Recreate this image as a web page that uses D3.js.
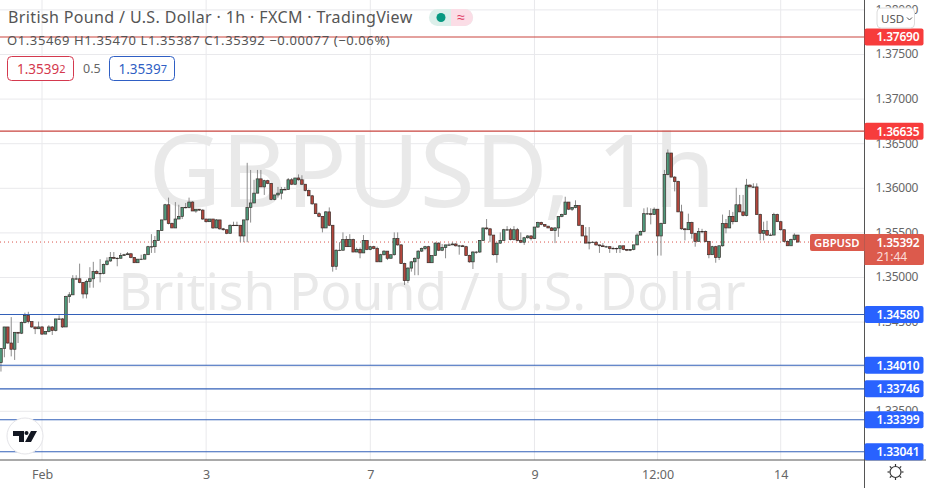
<!DOCTYPE html>
<html>
<head>
<meta charset="utf-8">
<script src="https://cdn.jsdelivr.net/npm/d3@7"></script>
<style>
    html, body { margin: 0; padding: 0; background: #fff; overflow: hidden; }
    svg { display: block; }
    text { font-family: "Noto Sans", sans-serif; }
</style>
</head>
<body>
<svg></svg>
<script>
const firstOpen = 1.3404;
const closes = [
    1.3420, 1.3444, 1.3426, 1.3419, 1.3438, 1.3437, 1.3449, 1.3457, 1.3450, 1.3444,
    1.3442, 1.3444, 1.3436, 1.3439, 1.3444, 1.3440, 1.3453, 1.3453, 1.3444, 1.3478,
    1.3480, 1.3498, 1.3498, 1.3494, 1.3481, 1.3495, 1.3498, 1.3506, 1.3504, 1.3504,
    1.3514, 1.3518, 1.3522, 1.3521, 1.3521, 1.3524, 1.3525, 1.3526, 1.3522, 1.3516,
    1.3520, 1.3520, 1.3525, 1.3534, 1.3534, 1.3541, 1.3552, 1.3564, 1.3581, 1.3560,
    1.3555, 1.3565, 1.3568, 1.3578, 1.3578, 1.3584, 1.3574, 1.3576, 1.3575, 1.3565,
    1.3562, 1.3565, 1.3555, 1.3564, 1.3554, 1.3553, 1.3549, 1.3558, 1.3558, 1.3558,
    1.3546, 1.3564, 1.3578, 1.3583, 1.3594, 1.3610, 1.3601, 1.3608, 1.3605, 1.3587,
    1.3592, 1.3594, 1.3598, 1.3598, 1.3609, 1.3604, 1.3611, 1.3609, 1.3604, 1.3597,
    1.3591, 1.3582, 1.3571, 1.3568, 1.3555, 1.3573, 1.3558, 1.3512, 1.3530, 1.3530,
    1.3542, 1.3534, 1.3542, 1.3528, 1.3531, 1.3527, 1.3541, 1.3531, 1.3534, 1.3532,
    1.3517, 1.3525, 1.3529, 1.3521, 1.3525, 1.3543, 1.3536, 1.3515, 1.3496, 1.3510,
    1.3517, 1.3521, 1.3529, 1.3532, 1.3534, 1.3516, 1.3524, 1.3538, 1.3530, 1.3533,
    1.3536, 1.3536, 1.3537, 1.3535, 1.3535, 1.3534, 1.3524, 1.3517, 1.3528, 1.3528,
    1.3541, 1.3555, 1.3554, 1.3547, 1.3525, 1.3538, 1.3541, 1.3553, 1.3553, 1.3542,
    1.3553, 1.3541, 1.3539, 1.3544, 1.3546, 1.3543, 1.3556, 1.3561, 1.3559, 1.3557,
    1.3555, 1.3552, 1.3555, 1.3568, 1.3570, 1.3584, 1.3576, 1.3578, 1.3580, 1.3558,
    1.3546, 1.3538, 1.3539, 1.3539, 1.3536, 1.3535, 1.3534, 1.3534, 1.3532, 1.3532,
    1.3532, 1.3535, 1.3531, 1.3530, 1.3531, 1.3536, 1.3547, 1.3551, 1.3571, 1.3571,
    1.3570, 1.3576, 1.3546, 1.3560, 1.3615, 1.3639, 1.3612, 1.3607, 1.3573, 1.3554,
    1.3553, 1.3561, 1.3549, 1.3540, 1.3551, 1.3551, 1.3540, 1.3525, 1.3534, 1.3522,
    1.3535, 1.3560, 1.3555, 1.3568, 1.3562, 1.3581, 1.3573, 1.3569, 1.3603, 1.3601,
    1.3601, 1.3570, 1.3549, 1.3552, 1.3547, 1.3547, 1.3570, 1.3562, 1.3553, 1.3540,
    1.3535, 1.3542, 1.3547, 1.35392
];
const highs = [
    1.3420, 1.3444, 1.3444, 1.3455, 1.3438, 1.3438, 1.3450, 1.3460, 1.3461, 1.3450,
    1.3444, 1.3450, 1.3445, 1.3439, 1.3446, 1.3445, 1.3453, 1.3457, 1.3454, 1.3479,
    1.3483, 1.3502, 1.3502, 1.3515, 1.3494, 1.3497, 1.3511, 1.3517, 1.3508, 1.3520,
    1.3515, 1.3522, 1.3528, 1.3528, 1.3522, 1.3527, 1.3526, 1.3528, 1.3527, 1.3522,
    1.3520, 1.3525, 1.3526, 1.3535, 1.3548, 1.3546, 1.3552, 1.3564, 1.3582, 1.3589,
    1.3561, 1.3584, 1.3581, 1.3578, 1.3583, 1.3589, 1.3585, 1.3576, 1.3576, 1.3576,
    1.3565, 1.3565, 1.3565, 1.3565, 1.3564, 1.3555, 1.3553, 1.3559, 1.3562, 1.3562,
    1.3558, 1.3564, 1.3628, 1.3620, 1.3609, 1.3620, 1.3620, 1.3609, 1.3609, 1.3605,
    1.3592, 1.3601, 1.3601, 1.3601, 1.3611, 1.3611, 1.3611, 1.3615, 1.3614, 1.3604,
    1.3598, 1.3592, 1.3582, 1.3573, 1.3568, 1.3574, 1.3578, 1.3558, 1.3531, 1.3539,
    1.3550, 1.3546, 1.3548, 1.3543, 1.3533, 1.3533, 1.3547, 1.3541, 1.3535, 1.3535,
    1.3534, 1.3526, 1.3530, 1.3529, 1.3525, 1.3550, 1.3550, 1.3537, 1.3516, 1.3511,
    1.3518, 1.3522, 1.3530, 1.3533, 1.3535, 1.3535, 1.3524, 1.3539, 1.3539, 1.3537,
    1.3536, 1.3538, 1.3539, 1.3538, 1.3536, 1.3536, 1.3535, 1.3525, 1.3529, 1.3529,
    1.3541, 1.3555, 1.3565, 1.3555, 1.3547, 1.3538, 1.3550, 1.3554, 1.3557, 1.3555,
    1.3557, 1.3555, 1.3550, 1.3545, 1.3547, 1.3547, 1.3556, 1.3562, 1.3562, 1.3559,
    1.3557, 1.3556, 1.3556, 1.3568, 1.3571, 1.3590, 1.3584, 1.3578, 1.3586, 1.3580,
    1.3558, 1.3556, 1.3556, 1.3540, 1.3540, 1.3536, 1.3538, 1.3535, 1.3534, 1.3534,
    1.3533, 1.3535, 1.3535, 1.3531, 1.3531, 1.3536, 1.3549, 1.3552, 1.3577, 1.3578,
    1.3577, 1.3578, 1.3576, 1.3561, 1.3620, 1.3643, 1.3639, 1.3613, 1.3608, 1.3581,
    1.3555, 1.3571, 1.3562, 1.3549, 1.3555, 1.3554, 1.3552, 1.3540, 1.3535, 1.3535,
    1.3535, 1.3570, 1.3565, 1.3575, 1.3573, 1.3600, 1.3592, 1.3592, 1.3610, 1.3604,
    1.3605, 1.3605, 1.3571, 1.3562, 1.3563, 1.3549, 1.3572, 1.3571, 1.3563, 1.3553,
    1.3541, 1.3543, 1.3549, 1.35470
];
const lows = [
    1.3394, 1.3410, 1.3425, 1.3411, 1.3407, 1.3426, 1.3436, 1.3448, 1.3448, 1.3443,
    1.3436, 1.3442, 1.3435, 1.3436, 1.3438, 1.3435, 1.3439, 1.3452, 1.3443, 1.3444,
    1.3471, 1.3480, 1.3497, 1.3493, 1.3476, 1.3476, 1.3488, 1.3488, 1.3503, 1.3494,
    1.3503, 1.3513, 1.3517, 1.3520, 1.3512, 1.3521, 1.3524, 1.3525, 1.3521, 1.3516,
    1.3516, 1.3519, 1.3520, 1.3525, 1.3527, 1.3527, 1.3541, 1.3552, 1.3564, 1.3559,
    1.3555, 1.3555, 1.3565, 1.3565, 1.3577, 1.3577, 1.3574, 1.3572, 1.3574, 1.3564,
    1.3561, 1.3562, 1.3554, 1.3555, 1.3553, 1.3552, 1.3548, 1.3549, 1.3557, 1.3557,
    1.3539, 1.3539, 1.3539, 1.3561, 1.3583, 1.3594, 1.3601, 1.3592, 1.3604, 1.3586,
    1.3586, 1.3589, 1.3587, 1.3598, 1.3599, 1.3603, 1.3603, 1.3608, 1.3603, 1.3596,
    1.3591, 1.3581, 1.3571, 1.3567, 1.3550, 1.3555, 1.3557, 1.3506, 1.3508, 1.3529,
    1.3530, 1.3534, 1.3534, 1.3528, 1.3528, 1.3521, 1.3527, 1.3530, 1.3530, 1.3531,
    1.3517, 1.3517, 1.3524, 1.3519, 1.3521, 1.3524, 1.3535, 1.3515, 1.3491, 1.3493,
    1.3506, 1.3502, 1.3502, 1.3528, 1.3530, 1.3516, 1.3516, 1.3524, 1.3529, 1.3529,
    1.3521, 1.3535, 1.3536, 1.3534, 1.3525, 1.3534, 1.3524, 1.3516, 1.3509, 1.3526,
    1.3527, 1.3541, 1.3553, 1.3539, 1.3524, 1.3516, 1.3537, 1.3541, 1.3552, 1.3541,
    1.3541, 1.3540, 1.3538, 1.3536, 1.3543, 1.3541, 1.3543, 1.3555, 1.3558, 1.3556,
    1.3555, 1.3552, 1.3538, 1.3545, 1.3567, 1.3570, 1.3575, 1.3574, 1.3577, 1.3557,
    1.3546, 1.3538, 1.3531, 1.3538, 1.3535, 1.3527, 1.3534, 1.3533, 1.3527, 1.3531,
    1.3527, 1.3527, 1.3530, 1.3529, 1.3529, 1.3530, 1.3536, 1.3547, 1.3550, 1.3570,
    1.3559, 1.3570, 1.3524, 1.3524, 1.3561, 1.3614, 1.3612, 1.3596, 1.3573, 1.3553,
    1.3541, 1.3553, 1.3543, 1.3534, 1.3540, 1.3549, 1.3539, 1.3521, 1.3525, 1.3516,
    1.3519, 1.3534, 1.3549, 1.3555, 1.3559, 1.3562, 1.3573, 1.3568, 1.3568, 1.3601,
    1.3600, 1.3570, 1.3541, 1.3541, 1.3546, 1.3546, 1.3547, 1.3562, 1.3552, 1.3539,
    1.3535, 1.3536, 1.3541, 1.35387
];
const priceTicks = [1.38, 1.375, 1.37, 1.365, 1.36, 1.355, 1.35, 1.345, 1.34, 1.335];
const timeTicks = [['Feb', 0], ['3', 48], ['7', 96], ['9', 144], ['12:00', 180], ['14', 216]];
const resistance = [1.3769, 1.36635];
const support = [1.3458, 1.3401, 1.33746, 1.33399, 1.33041];
const lastPrice = 1.35392;

const width = 926, height = 488;
const plotRight = 864.5, plotBottom = 460;
const firstBar = -12;

const svg = d3.select('svg').attr('width', width).attr('height', height);

const x = d3.scaleLinear().domain([0, 216]).range([42, 780.7]);
const y = d3.scaleLinear().domain([1.33, 1.38]).range([455.4, 9.4]);

const candles = closes.map((c, i) => ({
    bar: i + firstBar,
    open: i === 0 ? firstOpen : closes[i - 1],
    close: c,
    high: highs[i],
    low: lows[i],
}));

const elPlot = svg.append('g');

// grid
elPlot.append('g').selectAll('line')
    .data(priceTicks)
    .join('line')
    .attr('x1', 0).attr('x2', plotRight)
    .attr('y1', d => y(d) + .5).attr('y2', d => y(d) + .5)
    .attr('stroke', '#e9e9ec');
elPlot.append('g').selectAll('line')
    .data(timeTicks)
    .join('line')
    .attr('x1', d => x(d[1])).attr('x2', d => x(d[1]))
    .attr('y1', 0).attr('y2', plotBottom)
    .attr('stroke', '#e9e9ec');

// watermark
elPlot.append('text')
    .attr('x', 432).attr('y', 207)
    .attr('text-anchor', 'middle')
    .attr('font-size', 100)
    .attr('fill', '#e9e9e9')
    .text('GBPUSD, 1h');
elPlot.append('text')
    .attr('x', 432).attr('y', 310)
    .attr('text-anchor', 'middle')
    .attr('font-size', 51.7)
    .attr('fill', '#e9e9e9')
    .text('British Pound / U.S. Dollar');

// last price dotted line
elPlot.append('line')
    .attr('x1', 0).attr('x2', 810)
    .attr('y1', y(lastPrice)).attr('y2', y(lastPrice))
    .attr('stroke', '#d9534a')
    .attr('stroke-dasharray', '1 3');

// candles
const elCandles = elPlot.append('g');
elCandles.selectAll('line')
    .data(candles)
    .join('line')
    .attr('x1', d => x(d.bar)).attr('x2', d => x(d.bar))
    .attr('y1', d => y(d.high)).attr('y2', d => y(d.low))
    .attr('stroke', '#8d8d8d')
    .attr('stroke-width', 1);
elCandles.selectAll('rect')
    .data(candles)
    .join('rect')
    .attr('x', d => x(d.bar) - 1.3)
    .attr('width', 2.6)
    .attr('y', d => y(Math.max(d.open, d.close)))
    .attr('height', d => Math.max(Math.abs(y(d.open) - y(d.close)), .4))
    .attr('fill', d => d.close >= d.open ? '#4f9a7c' : '#b3463c')
    .attr('stroke', '#3a2f2c')
    .attr('stroke-width', .7);

// levels
const levelLines = resistance.map(v => ({ v, color: '#c9453f', tag: '#f73c3c' }))
    .concat(support.map(v => ({ v, color: '#3360b8', tag: '#2962ff' })));
elPlot.append('g').selectAll('line')
    .data(levelLines)
    .join('line')
    .attr('x1', 0).attr('x2', plotRight)
    .attr('y1', d => y(d.v)).attr('y2', d => y(d.v))
    .attr('stroke', d => d.color)
    .attr('stroke-width', 1.1);

// axes
const elPriceAxis = svg.append('g')
    .attr('transform', `translate(${plotRight},0)`)
    .call(d3.axisRight(y).tickValues(priceTicks).tickSize(0).tickPadding(11).tickFormat(d3.format('.5f')));
elPriceAxis.select('.domain').attr('stroke', '#555').attr('d', `M0,0V${height}`);
elPriceAxis.selectAll('text').attr('font-size', 12).attr('letter-spacing', -.25).attr('fill', '#666').style('font-family', '"Noto Sans"');

const elTimeAxis = svg.append('g')
    .attr('transform', `translate(0,${plotBottom})`)
    .call(d3.axisBottom(x)
        .tickValues(timeTicks.map(d => d[1]))
        .tickSize(0).tickPadding(10)
        .tickFormat(d => timeTicks.find(t => t[1] === d)[0]));
elTimeAxis.select('.domain').attr('stroke', '#555').attr('d', `M0,0H${width}`);
elTimeAxis.selectAll('text').attr('font-size', 12.5).attr('fill', '#666').style('font-family', '"Noto Sans"');

// price tags
const elTags = svg.append('g').selectAll('g')
    .data(levelLines)
    .join('g')
    .attr('transform', d => `translate(${plotRight},${y(d.v)})`);
elTags.append('rect')
    .attr('x', 0).attr('y', -8.5).attr('width', 59).attr('height', 17).attr('rx', 2)
    .attr('fill', d => d.tag);
elTags.append('text')
    .attr('x', 12).attr('y', 4.4)
    .attr('font-size', 12).attr('font-weight', 600).attr('letter-spacing', -.25).attr('fill', '#fff')
    .text(d => d3.format('.5f')(d.v));

// last price tag
svg.append('path')
    .attr('d', 'M812,234H864.5V251H812a2,2 0 0 1 -2,-2V236a2,2 0 0 1 2,-2Z')
    .attr('fill', '#dc5a4c');
svg.append('text').attr('x', 814).attr('y', 246.5).attr('font-size', 11.3).attr('font-weight', 600)
    .attr('fill', '#fff').text('GBPUSD');
svg.append('path')
    .attr('d', 'M864.5,234H922a2,2 0 0 1 2,2V263a2,2 0 0 1 -2,2H864.5Z')
    .attr('fill', '#dc5a4c');
svg.append('text').attr('x', 876.5).attr('y', 246.5).attr('font-size', 12).attr('font-weight', 600).attr('letter-spacing', -.25)
    .attr('fill', '#fff').text(d3.format('.5f')(lastPrice));
svg.append('text').attr('x', 876.5).attr('y', 261).attr('font-size', 12)
    .attr('fill', '#fbdcd8').text('21:44');

// currency button
svg.append('rect')
    .attr('x', 877).attr('y', 8).attr('width', 37.5).attr('height', 20).attr('rx', 4)
    .attr('fill', '#fff').attr('stroke', '#dcdcdc');
svg.append('text').attr('x', 881).attr('y', 22.5).attr('font-size', 11.5).attr('fill', '#555').text('USD');
svg.append('path').attr('d', 'M907,17.5l2.5,2.5l2.5,-2.5').attr('fill', 'none').attr('stroke', '#555');

// header
svg.append('text').attr('x', 8).attr('y', 23).attr('font-size', 16).attr('fill', '#555')
    .attr('letter-spacing', .37)
    .text('British Pound / U.S. Dollar · 1h · FXCM · TradingView');
svg.append('text').attr('x', 7).attr('y', 45).attr('font-size', 13).attr('fill', '#555')
    .attr('letter-spacing', .6)
    .text('O1.35469 H1.35470 L1.35387 C1.35392 −0.00077 (−0.06%)');

// status badge
svg.append('rect').attr('x', 429).attr('y', 9).attr('width', 44).attr('height', 17).attr('rx', 8.5).attr('fill', '#dcefea');
svg.append('path').attr('d', 'M451,9H464.5a8.5,8.5 0 0 1 0,17H451Z').attr('fill', '#fbdde6');
svg.append('circle').attr('cx', 441).attr('cy', 17.5).attr('r', 4.5).attr('fill', '#089981');
svg.append('text').attr('x', 461).attr('y', 22).attr('text-anchor', 'middle').attr('font-size', 14)
    .attr('fill', '#e0365f').text('≈');

// bid / ask boxes
svg.append('rect').attr('x', 7.5).attr('y', 56.5).attr('width', 66).attr('height', 24).attr('rx', 4)
    .attr('fill', '#fff').attr('stroke', '#d4394e');
const elBid = svg.append('text').attr('x', 17).attr('y', 74).attr('font-size', 13.5).attr('fill', '#d4394e').text('1.3539');
elBid.append('tspan').attr('font-size', 11).attr('dy', -1.5).text('2');
svg.append('text').attr('x', 83).attr('y', 73).attr('font-size', 12.5).attr('fill', '#666').text('0.5');
svg.append('rect').attr('x', 109.5).attr('y', 56.5).attr('width', 65).attr('height', 24).attr('rx', 4)
    .attr('fill', '#fff').attr('stroke', '#2f5fc4');
const elAsk = svg.append('text').attr('x', 118.5).attr('y', 74).attr('font-size', 13.5).attr('fill', '#2f5fc4').text('1.3539');
elAsk.append('tspan').attr('font-size', 11).attr('dy', -1.5).text('7');

// logo
svg.append('circle').attr('cx', 25).attr('cy', 436).attr('r', 18)
    .attr('fill', '#fff').attr('stroke', '#e4e4e8');
svg.append('path')
    .attr('d', 'M13,431H24V442H19V436H13ZM31,431H37L31,442H25Z')
    .attr('fill', '#131722');
svg.append('circle').attr('cx', 26.5).attr('cy', 433).attr('r', 2).attr('fill', '#131722');

// settings sun
const elSun = svg.append('g').attr('transform', 'translate(895.5,472)');
elSun.append('circle').attr('r', 5.5).attr('fill', 'none').attr('stroke', '#333').attr('stroke-width', 1.2);
elSun.selectAll('line')
    .data(d3.range(8))
    .join('line')
    .attr('y1', -6).attr('y2', -8)
    .attr('transform', d => `rotate(${d * 45})`)
    .attr('stroke', '#333').attr('stroke-width', 1.2);
</script>
</body>
</html>
